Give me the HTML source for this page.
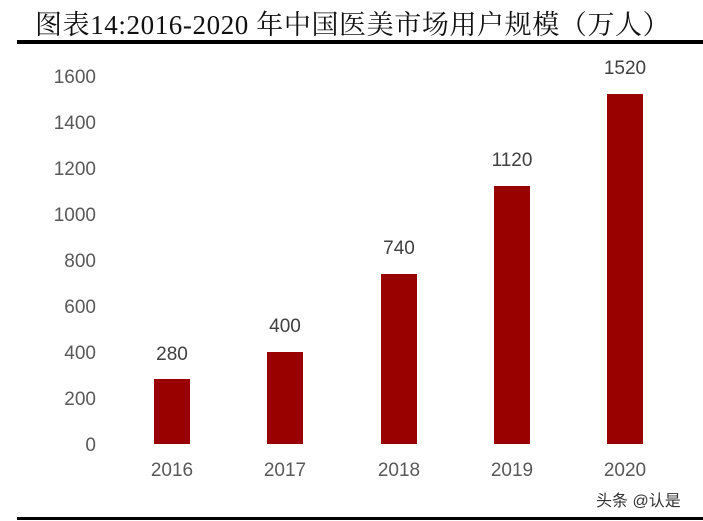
<!DOCTYPE html>
<html><head><meta charset="utf-8"><style>
body{margin:0;background:#fff;width:703px;height:521px;overflow:hidden;position:relative;font-family:"Liberation Sans","Noto Sans CJK SC",sans-serif}
.t{position:absolute;left:35px;top:3px;font-family:"Liberation Serif","Noto Serif CJK SC",serif;font-size:27px;color:#111;white-space:nowrap;letter-spacing:0.6px}
.hl{position:absolute;left:17px;top:40px;width:686px;height:4px;background:#000}
.bl{position:absolute;left:17px;top:517px;width:686px;height:3px;background:#000}
.y{position:absolute;right:607px;font-size:19px;color:#595959;transform:translateY(-50%)}
.x{position:absolute;font-size:19px;color:#595959;width:80px;text-align:center;top:460px}
.v{position:absolute;font-size:19px;color:#404040;width:80px;text-align:center}
.b{position:absolute;width:36px;background:#990000;bottom:77px}
.w{position:absolute;left:596px;top:487px;font-size:16px;color:#333}
</style></head><body>
<div class="t">图表14:2016-2020 年中国医美市场用户规模（万人）</div>
<div class="hl"></div>
<div class="y" style="top:78px">1600</div>
<div class="y" style="top:124px">1400</div>
<div class="y" style="top:170px">1200</div>
<div class="y" style="top:216px">1000</div>
<div class="y" style="top:262px">800</div>
<div class="y" style="top:308px">600</div>
<div class="y" style="top:354px">400</div>
<div class="y" style="top:400px">200</div>
<div class="y" style="top:446px">0</div>
<div class="b" style="left:154px;height:65px"></div>
<div class="b" style="left:267px;height:92px"></div>
<div class="b" style="left:381px;height:170px"></div>
<div class="b" style="left:494px;height:258px"></div>
<div class="b" style="left:607px;height:350px"></div>
<div class="v" style="left:132px;top:344px">280</div>
<div class="v" style="left:245px;top:316px">400</div>
<div class="v" style="left:359px;top:238px">740</div>
<div class="v" style="left:472px;top:150px">1120</div>
<div class="v" style="left:585px;top:58px">1520</div>
<div class="x" style="left:132px">2016</div>
<div class="x" style="left:245px">2017</div>
<div class="x" style="left:359px">2018</div>
<div class="x" style="left:472px">2019</div>
<div class="x" style="left:585px">2020</div>
<div class="w">头条 @认是</div>
<div class="bl"></div>
</body></html>
